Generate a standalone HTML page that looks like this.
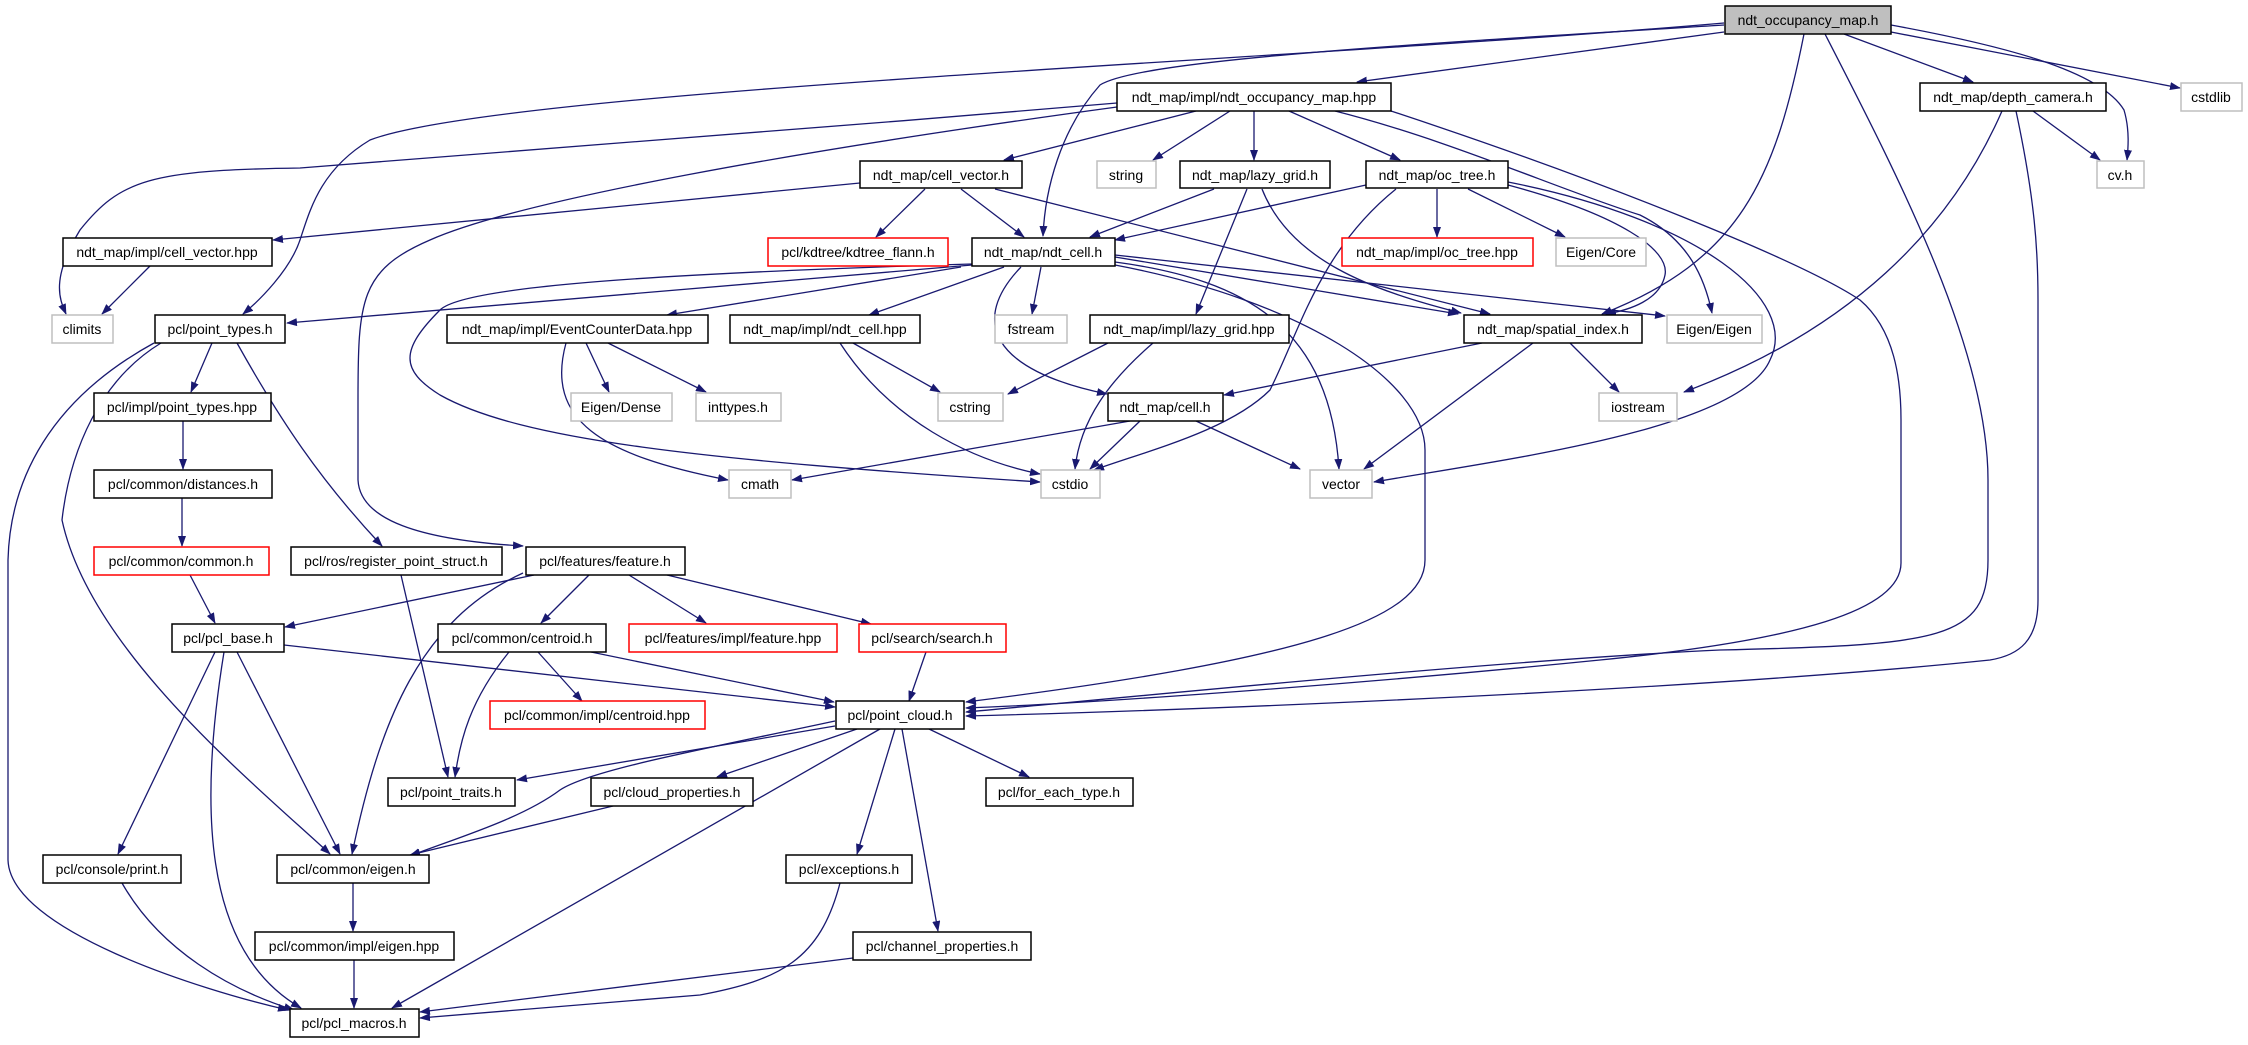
<!DOCTYPE html>
<html><head><meta charset="utf-8"><style>
html,body{margin:0;padding:0;background:#fff;}
svg{display:block;}
text{font-family:"Liberation Sans",sans-serif;font-size:14px;text-anchor:middle;fill:#000;}
.e{fill:none;stroke:#191970;stroke-width:1.3;}
.n{fill:#fff;stroke:#000;stroke-width:1.5;}
.g{fill:#fff;stroke:#bfbfbf;stroke-width:1.5;}
.r{fill:#fff;stroke:#ff0000;stroke-width:1.5;}
.h{fill:#bfbfbf;stroke:#000;stroke-width:1.5;}
</style></head><body>
<svg width="2248" height="1045" viewBox="0 0 2248 1045" xmlns="http://www.w3.org/2000/svg">
<defs><marker id="a" markerWidth="11" markerHeight="8" refX="10" refY="4" orient="auto" markerUnits="userSpaceOnUse"><path d="M0,0 L11,4 L0,8 z" fill="#191970"/></marker></defs>
<g class="e" marker-end="url(#a)">
<path d="M1724,32 L1357,82"/>
<path d="M1724,23 C1300,60 500,90 370,140 C320,170 310,210 300,240 C290,270 260,300 243,314"/>
<path d="M1724,25 C1400,45 1140,60 1100,85 C1060,130 1045,190 1043,236"/>
<path d="M1844,34 L1973,82"/>
<path d="M1891,32 L2180,88"/>
<path d="M1891,25 C2000,45 2100,70 2124,110 C2130,130 2128,150 2127,160"/>
<path d="M1804,34 C1775,180 1740,260 1602,314"/>
<path d="M1825,34 C1900,180 1988,350 1988,480 L1988,560 C1988,640 1940,645 1720,650 C1500,660 1100,700 966,712"/>
<path d="M1117,103 C800,130 400,160 300,168 C150,170 120,180 80,230 C50,280 60,300 66,314"/>
<path d="M1117,107 C800,150 520,200 430,240 C360,270 358,300 358,400 L358,480 C360,520 420,540 523,546"/>
<path d="M1196,111 L1004,160"/>
<path d="M1230,111 L1153,160"/>
<path d="M1254,111 L1254,160"/>
<path d="M1289,111 L1400,160"/>
<path d="M1335,111 C1450,140 1560,190 1640,215 C1690,240 1705,280 1712,313"/>
<path d="M1391,111 C1600,180 1800,260 1860,300 C1895,330 1901,380 1901,420 L1901,563 C1901,610 1800,640 1600,660 C1300,690 1050,705 966,708"/>
<path d="M2033,111 L2100,160"/>
<path d="M2002,111 C1950,230 1850,330 1684,392"/>
<path d="M2016,111 C2035,200 2038,250 2038,300 L2038,600 C2038,640 2020,655 1990,660 C1700,690 1200,710 966,716"/>
<path d="M860,183 L273,240"/>
<path d="M925,189 L876,237"/>
<path d="M961,189 L1024,237"/>
<path d="M995,189 L1490,314"/>
<path d="M1214,189 L1090,237"/>
<path d="M1247,189 L1196,314"/>
<path d="M1262,189 C1290,260 1370,290 1461,313"/>
<path d="M1366,185 L1115,240"/>
<path d="M1396,189 C1320,250 1300,330 1270,390 C1230,430 1150,450 1094,470"/>
<path d="M1437,189 L1437,237"/>
<path d="M1468,189 L1565,237"/>
<path d="M1508,185 C1620,215 1670,250 1665,275 C1660,300 1630,310 1606,314"/>
<path d="M1508,182 C1700,220 1800,300 1770,360 C1740,430 1500,460 1374,482"/>
<path d="M972,265 L287,323"/>
<path d="M961,267 L667,315"/>
<path d="M1004,267 L869,315"/>
<path d="M1041,267 L1032,314"/>
<path d="M972,264 C600,275 460,290 440,310 C400,350 400,370 440,395 C520,440 700,460 1040,482"/>
<path d="M1021,267 C970,320 990,370 1107,394"/>
<path d="M1115,262 C1250,280 1330,330 1339,469"/>
<path d="M1115,257 L1458,314"/>
<path d="M1115,255 L1665,316"/>
<path d="M1115,265 C1300,300 1425,380 1425,450 L1425,560 C1425,620 1300,660 966,702"/>
<path d="M1108,343 L1008,394"/>
<path d="M1153,343 C1110,380 1080,420 1075,469"/>
<path d="M1130,421 L792,480"/>
<path d="M1140,421 L1090,469"/>
<path d="M1196,421 L1300,469"/>
<path d="M1482,343 L1224,395"/>
<path d="M1570,343 L1619,392"/>
<path d="M1533,343 L1364,469"/>
<path d="M586,343 L609,392"/>
<path d="M608,343 L706,392"/>
<path d="M566,343 C545,420 600,455 728,480"/>
<path d="M853,343 L940,392"/>
<path d="M840,343 C890,420 970,460 1040,474"/>
<path d="M150,266 L102,314"/>
<path d="M212,343 L191,392"/>
<path d="M237,343 C280,420 320,480 382,546"/>
<path d="M161,343 C100,380 70,450 62,520 C90,650 250,780 330,854"/>
<path d="M154,343 C50,400 10,480 8,560 L8,860 C10,930 200,990 288,1010"/>
<path d="M183,421 L183,469"/>
<path d="M182,498 L182,546"/>
<path d="M190,575 L215,623"/>
<path d="M401,575 L448,777"/>
<path d="M534,575 L285,627"/>
<path d="M589,575 L541,623"/>
<path d="M629,575 L706,623"/>
<path d="M667,575 L871,624"/>
<path d="M523,573 C420,620 380,720 352,854"/>
<path d="M284,645 L835,707"/>
<path d="M215,652 L118,854"/>
<path d="M224,652 C200,800 200,950 301,1008"/>
<path d="M237,652 L340,854"/>
<path d="M509,652 C470,700 460,740 455,777"/>
<path d="M538,652 L582,701"/>
<path d="M591,652 L834,702"/>
<path d="M926,652 L909,701"/>
<path d="M835,726 L517,780"/>
<path d="M835,721 C700,750 590,770 560,790 C520,820 450,840 410,856"/>
<path d="M857,729 L717,777"/>
<path d="M880,729 L392,1008"/>
<path d="M895,729 L857,854"/>
<path d="M902,729 L938,931"/>
<path d="M929,729 L1029,777"/>
<path d="M613,806 L410,855"/>
<path d="M353,883 L353,931"/>
<path d="M354,960 L354,1008"/>
<path d="M122,883 C160,950 230,990 294,1010"/>
<path d="M840,883 C820,960 780,980 700,995 L420,1018"/>
<path d="M853,958 L420,1012"/>
</g>
<g>
<rect class="h" x="1725" y="6" width="166" height="28"/><text x="1808" y="25">ndt_occupancy_map.h</text>
<rect class="n" x="1117" y="83" width="274" height="28"/><text x="1254" y="102">ndt_map/impl/ndt_occupancy_map.hpp</text>
<rect class="n" x="1920" y="83" width="186" height="28"/><text x="2013" y="102">ndt_map/depth_camera.h</text>
<rect class="g" x="2181" y="83" width="61" height="28"/><text x="2211" y="102">cstdlib</text>
<rect class="n" x="860" y="161" width="162" height="27"/><text x="941" y="180">ndt_map/cell_vector.h</text>
<rect class="g" x="1097" y="161" width="59" height="27"/><text x="1126" y="180">string</text>
<rect class="n" x="1180" y="161" width="150" height="27"/><text x="1255" y="180">ndt_map/lazy_grid.h</text>
<rect class="n" x="1366" y="161" width="142" height="27"/><text x="1437" y="180">ndt_map/oc_tree.h</text>
<rect class="g" x="2097" y="161" width="47" height="27"/><text x="2120" y="180">cv.h</text>
<rect class="n" x="63" y="238" width="209" height="28"/><text x="167" y="257">ndt_map/impl/cell_vector.hpp</text>
<rect class="r" x="768" y="238" width="180" height="28"/><text x="858" y="257">pcl/kdtree/kdtree_flann.h</text>
<rect class="n" x="972" y="238" width="143" height="28"/><text x="1043" y="257">ndt_map/ndt_cell.h</text>
<rect class="r" x="1342" y="238" width="191" height="28"/><text x="1437" y="257">ndt_map/impl/oc_tree.hpp</text>
<rect class="g" x="1556" y="238" width="90" height="28"/><text x="1601" y="257">Eigen/Core</text>
<rect class="g" x="52" y="315" width="61" height="28"/><text x="82" y="334">climits</text>
<rect class="n" x="155" y="315" width="130" height="28"/><text x="220" y="334">pcl/point_types.h</text>
<rect class="n" x="447" y="315" width="261" height="28"/><text x="577" y="334">ndt_map/impl/EventCounterData.hpp</text>
<rect class="n" x="730" y="315" width="190" height="28"/><text x="825" y="334">ndt_map/impl/ndt_cell.hpp</text>
<rect class="g" x="995" y="315" width="72" height="28"/><text x="1031" y="334">fstream</text>
<rect class="n" x="1090" y="315" width="199" height="28"/><text x="1189" y="334">ndt_map/impl/lazy_grid.hpp</text>
<rect class="n" x="1464" y="315" width="178" height="28"/><text x="1553" y="334">ndt_map/spatial_index.h</text>
<rect class="g" x="1667" y="315" width="95" height="28"/><text x="1714" y="334">Eigen/Eigen</text>
<rect class="n" x="94" y="393" width="177" height="28"/><text x="182" y="412">pcl/impl/point_types.hpp</text>
<rect class="g" x="571" y="393" width="101" height="28"/><text x="621" y="412">Eigen/Dense</text>
<rect class="g" x="696" y="393" width="85" height="28"/><text x="738" y="412">inttypes.h</text>
<rect class="g" x="938" y="393" width="65" height="28"/><text x="970" y="412">cstring</text>
<rect class="n" x="1108" y="393" width="115" height="28"/><text x="1165" y="412">ndt_map/cell.h</text>
<rect class="g" x="1599" y="393" width="78" height="28"/><text x="1638" y="412">iostream</text>
<rect class="n" x="94" y="470" width="178" height="28"/><text x="183" y="489">pcl/common/distances.h</text>
<rect class="g" x="729" y="470" width="62" height="28"/><text x="760" y="489">cmath</text>
<rect class="g" x="1041" y="470" width="59" height="28"/><text x="1070" y="489">cstdio</text>
<rect class="g" x="1310" y="470" width="62" height="28"/><text x="1341" y="489">vector</text>
<rect class="r" x="94" y="547" width="175" height="28"/><text x="181" y="566">pcl/common/common.h</text>
<rect class="n" x="291" y="547" width="211" height="28"/><text x="396" y="566">pcl/ros/register_point_struct.h</text>
<rect class="n" x="526" y="547" width="159" height="28"/><text x="605" y="566">pcl/features/feature.h</text>
<rect class="n" x="172" y="624" width="112" height="28"/><text x="228" y="643">pcl/pcl_base.h</text>
<rect class="n" x="438" y="624" width="168" height="28"/><text x="522" y="643">pcl/common/centroid.h</text>
<rect class="r" x="629" y="624" width="208" height="28"/><text x="733" y="643">pcl/features/impl/feature.hpp</text>
<rect class="r" x="859" y="624" width="147" height="28"/><text x="932" y="643">pcl/search/search.h</text>
<rect class="r" x="490" y="701" width="215" height="28"/><text x="597" y="720">pcl/common/impl/centroid.hpp</text>
<rect class="n" x="836" y="701" width="128" height="28"/><text x="900" y="720">pcl/point_cloud.h</text>
<rect class="n" x="388" y="778" width="127" height="28"/><text x="451" y="797">pcl/point_traits.h</text>
<rect class="n" x="591" y="778" width="162" height="28"/><text x="672" y="797">pcl/cloud_properties.h</text>
<rect class="n" x="986" y="778" width="147" height="28"/><text x="1059" y="797">pcl/for_each_type.h</text>
<rect class="n" x="43" y="855" width="138" height="28"/><text x="112" y="874">pcl/console/print.h</text>
<rect class="n" x="277" y="855" width="152" height="28"/><text x="353" y="874">pcl/common/eigen.h</text>
<rect class="n" x="786" y="855" width="126" height="28"/><text x="849" y="874">pcl/exceptions.h</text>
<rect class="n" x="255" y="932" width="199" height="28"/><text x="354" y="951">pcl/common/impl/eigen.hpp</text>
<rect class="n" x="853" y="932" width="178" height="28"/><text x="942" y="951">pcl/channel_properties.h</text>
<rect class="n" x="290" y="1009" width="129" height="28"/><text x="354" y="1028">pcl/pcl_macros.h</text>
</g>
</svg>
</body></html>
